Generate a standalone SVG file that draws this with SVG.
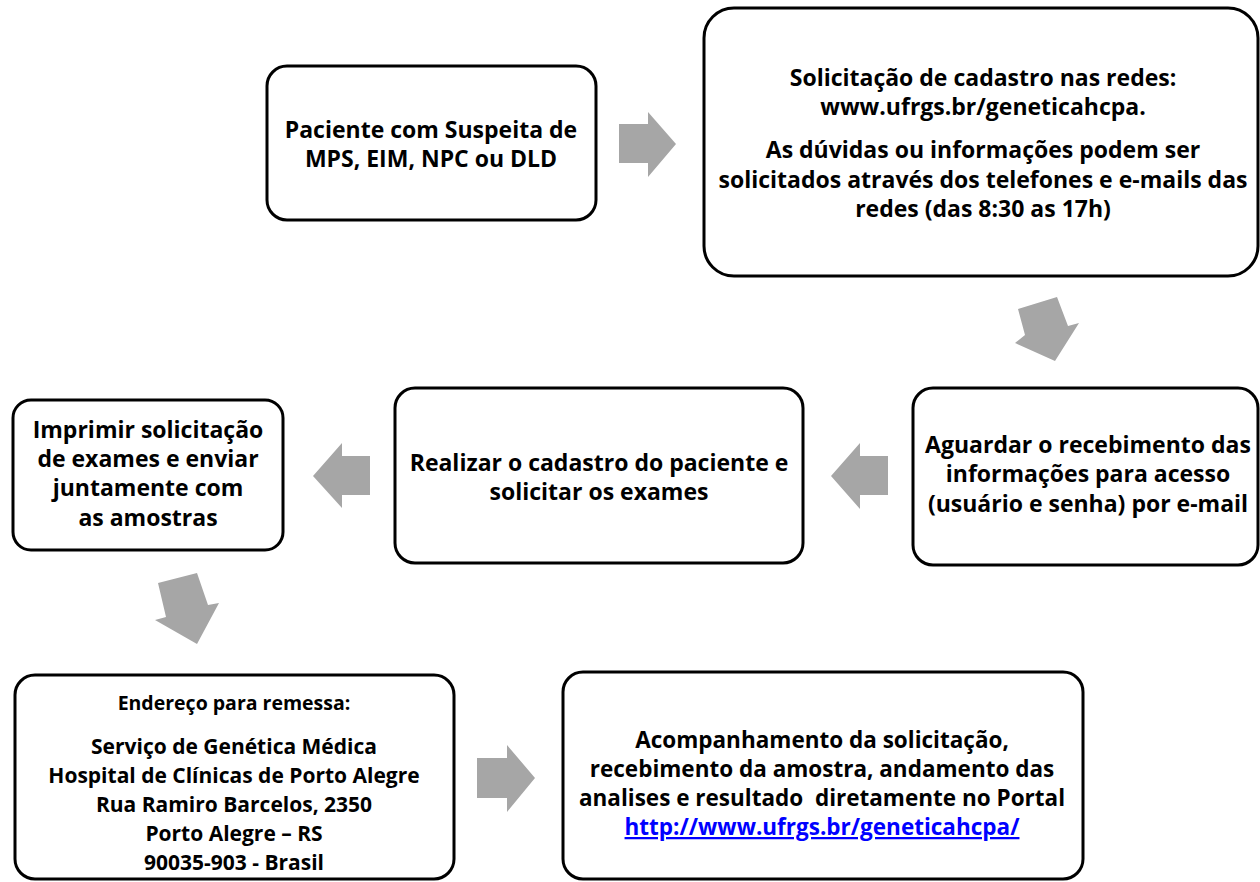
<svg xmlns="http://www.w3.org/2000/svg" width="1260" height="882" viewBox="0 0 1260 882">
<style>
.box{fill:#fff;stroke:#000;stroke-width:3}
.arr{fill:#a6a6a6;stroke:none}
text{font-family:"Open Sans",Lato,"Liberation Sans",sans-serif;font-weight:bold;font-size:23px;fill:#000;text-anchor:middle}
.sm{font-size:19.5px}
.ad{font-size:21px}
.n7t{font-size:22.5px}
.link{fill:#0000ff;text-decoration:underline}
</style>
<rect width="1260" height="882" fill="#fff"/>
<g id="connectors">
<polygon class="arr" points="619,124 648,124 648,112 676,144 648,177 648,163 619,163"/>
<polygon class="arr" points="1018,309 1057,297 1068,326 1079,323 1055,361 1015,343 1025,335"/>
<polygon class="arr" points="888,456 860,456 860,443 831,476 860,509 860,495 888,495"/>
<polygon class="arr" points="370,456 342,456 342,443 313,476 342,508 342,495 370,495"/>
<polygon class="arr" points="158,583 197,573 208,605 219,603 197,644 155,620 166,617"/>
<polygon class="arr" points="477,758 507,758 507,745 535,778 507,812 507,798 477,798"/>
</g>
<g id="n1">
<rect class="box" x="267" y="66" width="329" height="154" rx="20"/>
<text x="431" y="138">Paciente com Suspeita de</text>
<text x="431" y="167">MPS, EIM, NPC ou DLD</text>
</g>
<g id="n2">
<rect class="box" x="704" y="8" width="554" height="268" rx="30"/>
<text x="983" y="86">Solicitação de cadastro nas redes:</text>
<text x="983" y="115">www.ufrgs.br/geneticahcpa.</text>
<text x="983" y="158">As dúvidas ou informações podem ser</text>
<text x="983" y="188">solicitados através dos telefones e e-mails das</text>
<text x="983" y="217">redes (das 8:30 as 17h)</text>
</g>
<g id="n3">
<rect class="box" x="913" y="388" width="345" height="177" rx="20"/>
<text x="1088" y="453">Aguardar o recebimento das</text>
<text x="1088" y="482">informações para acesso</text>
<text x="1088" y="512">(usuário e senha) por e-mail</text>
</g>
<g id="n4">
<rect class="box" x="395" y="388" width="408" height="175" rx="20"/>
<text x="599" y="471">Realizar o cadastro do paciente e</text>
<text x="599" y="500">solicitar os exames</text>
</g>
<g id="n5">
<rect class="box" x="13" y="400" width="270" height="150" rx="18"/>
<text x="148" y="438">Imprimir solicitação</text>
<text x="148" y="467">de exames e enviar</text>
<text x="148" y="496">juntamente com</text>
<text x="148" y="526">as amostras</text>
</g>
<g id="n6">
<rect class="box" x="15" y="675" width="439" height="204" rx="20"/>
<text class="sm" x="234" y="710">Endereço para remessa:</text>
<text class="ad" x="234" y="754">Serviço de Genética Médica</text>
<text class="ad" x="234" y="783">Hospital de Clínicas de Porto Alegre</text>
<text class="ad" x="234" y="812">Rua Ramiro Barcelos, 2350</text>
<text class="ad" x="234" y="841">Porto Alegre – RS</text>
<text class="ad" x="234" y="870">90035-903 - Brasil</text>
</g>
<g id="n7">
<rect class="box" x="563" y="672" width="520" height="207" rx="20"/>
<text class="n7t" x="822" y="748">Acompanhamento da solicitação,</text>
<text class="n7t" x="822" y="777">recebimento da amostra, andamento das</text>
<text class="n7t" x="822" y="806" xml:space="preserve">analises e resultado  diretamente no Portal</text>
<text class="n7t link" x="822" y="835">http://www.ufrgs.br/geneticahcpa/</text>
</g>
</svg>
